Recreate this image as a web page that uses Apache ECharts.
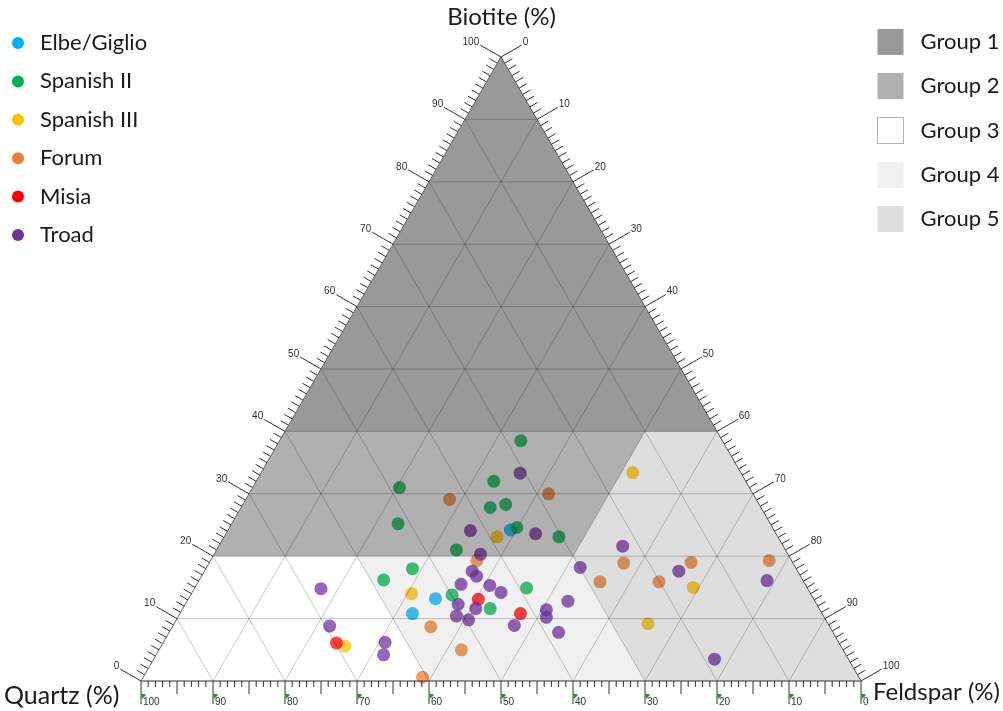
<!DOCTYPE html>
<html><head><meta charset="utf-8">
<script src="https://cdn.jsdelivr.net/npm/echarts@6/dist/echarts.min.js"></script>
<style>html,body{margin:0;padding:0;background:#fff}#c{width:1003px;height:711px}</style>
</head><body><div id="c"></div>
<script>
// ---- DATA: each sample is [Quartz %, Feldspar %, Biotite %] ----
const seriesNames = ['Elbe/Giglio','Spanish II','Spanish III','Forum','Misia','Troad'];
const seriesColors = ['#00b0f0','#00b050','#ffc000','#ed7d31','#ff0000','#7030a0'];

const elbeGiglio = [[36.6,39.2,24.2],[52.5,34.3,13.2],[56.9,32.3,10.8]];
const spanishII = [[28,33.5,38.5],[35,33,32],[48.6,20.4,31],[37.6,34.6,27.8],[35.2,36.5,28.3],
  [51.7,23.1,25.2],[35.5,39.9,24.6],[30.4,46.5,23.1],[45.7,33.3,21],[53.3,28.7,18],
  [58.2,25.6,16.2],[49.9,36.3,13.8],[39,46.1,14.9],[45.7,42.7,11.6]];
const spanishIII = [[15,51.6,33.4],[39,37.9,23.1],[55.4,30.6,14],[15.8,69.2,15],[25,65.8,9.2],[68.9,25.5,5.6]];
const forum = [[42.6,28.3,29.1],[28.4,41.6,30],[43.7,37,19.3],[55.4,35.9,8.7],[53,42,5],
  [60.6,38.8,0.6],[28.3,55.8,15.9],[23.5,57.6,18.9],[20.1,64,15.9],[14.1,66.9,19],[3.1,77.6,19.3]];
const misia = [[46.6,40.3,13.1],[41.9,47.3,10.8],[69.8,24.1,6.1]];
const troad = [[30.7,36,33.3],[42.2,33.7,24.1],[33.4,43,23.6],[42.7,37,20.3],[22.3,56.1,21.6],
  [29.9,51.9,18.2],[16.5,65.9,17.6],[5,78.9,16.1],[18.6,77.9,3.5],[67.6,17.6,14.8],
  [69.4,21.8,8.8],[63,30.8,6.2],[64.2,31.6,4.2],[45.2,37.2,17.6],[45,38.2,16.8],
  [47.8,36.7,15.5],[43.9,40.8,15.3],[42.9,42.9,14.2],[49.8,37.9,12.3],[47.7,40.7,11.6],
  [51,38.6,10.4],[49.6,40.6,9.8],[43.7,47.4,8.9],[34.3,52.9,12.8],[38,50.6,11.4],
  [38.6,51.2,10.2],[38.1,54.1,7.8]];
const seriesData = [elbeGiglio, spanishII, spanishIII, forum, misia, troad];

// Group regions, vertices as [Quartz, Feldspar, Biotite]
const groupNames = ['Group 1','Group 2','Group 3','Group 4','Group 5'];
const groupColors = ['rgba(0,0,0,0.40)','rgba(0,0,0,0.31)','rgba(255,255,255,0)','rgba(0,0,0,0.06)','rgba(0,0,0,0.13)'];
const group1 = [[60,0,40],[0,60,40],[0,0,100]];
const group2 = [[80,0,20],[30,50,20],[10,50,40],[60,0,40]];
const group3 = [[100,0,0],[60,40,0],[60,20,20],[80,0,20]];
const group4 = [[60,20,20],[30,50,20],[30,70,0],[60,40,0]];
const group5 = [[10,50,40],[0,60,40],[0,100,0],[30,70,0],[30,50,20]];
const groupPolys = [group1, group2, group3, group4, group5];

// Axis ticks (%)
const tickValues = [];
for (let v = 0; v <= 100; v++) tickValues.push(v);
const gridValues = [10,20,30,40,50,60,70,80,90];

// ---- ternary -> cartesian (x: 0..100, y: 0..86.6) ----
const H = Math.sqrt(3) / 2;
function toXY(f, b) { return [f + b / 2, b * H]; }
function qfb(p) { return toXY(p[1], p[2]); }

const FONT = 'Lato, "Open Sans", sans-serif';
const chart = echarts.init(document.getElementById('c'), null, {renderer: 'canvas'});

const series = [];
seriesNames.forEach((n, i) => {
  series.push({
    name: n, type: 'scatter', z: 2, symbolSize: 13,
    itemStyle: {color: seriesColors[i], opacity: 0.74},
    data: seriesData[i].map(qfb)
  });
});
groupNames.forEach((n, i) => {
  const poly = groupPolys[i];
  series.push({
    name: n, type: 'custom', z: 3, silent: true,
    itemStyle: {color: groupColors[i]},
    data: [[0, 0]],
    renderItem: function (params, api) {
      return {type: 'polygon', shape: {points: poly.map(p => api.coord(qfb(p)))},
        style: {fill: api.visual('color')}};
    }
  });
});
// grid lines
series.push({
  type: 'custom', z: 4, silent: true, data: gridValues.map(v => [v, 0]),
  renderItem: function (params, api) {
    const v = api.value(0);
    const st = {stroke: 'rgba(0,0,0,0.22)', lineWidth: 1};
    const L = (a, b) => {
      const p1 = api.coord(a), p2 = api.coord(b);
      return {type: 'line', shape: {x1: p1[0], y1: p1[1], x2: p2[0], y2: p2[1]}, style: st};
    };
    return {type: 'group', children: [
      L(toXY(0, v), toXY(100 - v, v)),
      L(toXY(v, 0), toXY(v, 100 - v)),
      L(toXY(100 - v, 0), toXY(0, 100 - v))
    ]};
  }
});
// triangle frame
series.push({
  type: 'custom', z: 5, silent: true, data: [[0, 0]],
  renderItem: function (params, api) {
    const a = api.coord(toXY(0, 0)), b = api.coord(toXY(100, 0)), t = api.coord(toXY(0, 100));
    return {type: 'group', children: [
      {type: 'line', shape: {x1: a[0], y1: a[1], x2: b[0], y2: b[1]}, style: {stroke: '#333', lineWidth: 1}},
      {type: 'line', shape: {x1: a[0], y1: a[1], x2: t[0], y2: t[1]}, style: {stroke: '#666', lineWidth: 1}},
      {type: 'line', shape: {x1: b[0], y1: b[1], x2: t[0], y2: t[1]}, style: {stroke: '#555', lineWidth: 1}}
    ]};
  }
});
// ticks + labels
series.push({
  type: 'custom', z: 5, silent: true, data: tickValues.map(v => [v, 0]),
  renderItem: function (params, api) {
    const v = api.value(0);
    const major = v % 10 === 0, half = v % 5 === 0;
    const kids = [];
    const c = 0.866, s = 0.5;
    const ln = (p, q, col) => ({type: 'line', shape: {x1: p[0], y1: p[1], x2: q[0], y2: q[1]},
      style: {stroke: col || '#333', lineWidth: 1}});
    const tx = (str, x, y, al, va) => ({type: 'text', style: {text: str, x: x, y: y,
      align: al, verticalAlign: va, textAlign: al, textVerticalAlign: va,
      font: '10px "Liberation Sans", Arial, sans-serif', fill: '#333'}});
    const ls = major ? 24 : 9;
    // left edge: Biotite
    const pl = api.coord(toXY(0, v));
    const el = [pl[0] - c * ls, pl[1] - s * ls];
    kids.push(ln(pl, el));
    // right edge: Feldspar
    const pr = api.coord(toXY(v, 100 - v));
    const er = [pr[0] + c * ls, pr[1] - s * ls];
    kids.push(ln(pr, er));
    // bottom: Quartz
    const pb = api.coord(toXY(100 - v, 0));
    const lb = major ? 23 : (half ? 13 : 6);
    kids.push(ln(pb, [pb[0], pb[1] + lb]));
    if (major) {
      kids.push(tx(String(v), el[0] - 1, el[1] + 2, 'right', 'bottom'));
      kids.push(tx(String(v), er[0] + 1, er[1] + 2, 'left', 'bottom'));
      kids.push(tx(String(v), pb[0] + 2, pb[1] + 21, 'left', 'middle'));
      kids.push({type: 'polygon', shape: {points: [[pb[0], pb[1] + 12.5], [pb[0] + 5.5, pb[1] + 13.5], [pb[0] + 1, pb[1] + 18]]},
        style: {fill: '#2f8f2f'}});
    }
    return {type: 'group', children: kids};
  }
});

const labelStyle = {fontSize: 22, fontFamily: FONT, color: '#1a1a1a'};
chart.setOption({
  animation: false,
  backgroundColor: '#fff',
  grid: {left: 141, top: 57, width: 720, height: 624, containLabel: false},
  xAxis: {type: 'value', min: 0, max: 100, show: false},
  yAxis: {type: 'value', min: 0, max: 100 * H, show: false},
  legend: [
    {orient: 'vertical', left: 7, top: 26, itemWidth: 12, itemHeight: 12, itemGap: 14.4,
      icon: 'circle', selectedMode: false,
      textStyle: Object.assign({lineHeight: 24, padding: [0, 0, 0, 11]}, labelStyle),
      data: seriesNames.map(n => ({name: n, itemStyle: {opacity: 1}}))},
    {orient: 'vertical', left: 872, top: 24, itemWidth: 26, itemHeight: 26, itemGap: 18,
      icon: 'rect', selectedMode: false,
      textStyle: Object.assign({lineHeight: 26, padding: [0, 0, 0, 12]}, labelStyle),
      data: groupNames.map((n, i) => i === 2
        ? {name: n, itemStyle: {color: '#fff', borderColor: '#666', borderWidth: 1, borderType: 'dotted'}}
        : {name: n})}
  ],
  graphic: [
    {type: 'text', left: 'center', top: 5, style: {text: 'Biotite (%)', font: '24px ' + FONT, fill: '#1a1a1a'}},
    {type: 'text', left: 4, top: 683, style: {text: 'Quartz (%)', font: '25px ' + FONT, fill: '#1a1a1a'}},
    {type: 'text', right: 3, top: 680, style: {text: 'Feldspar (%)', font: '24px ' + FONT, fill: '#1a1a1a'}}
  ],
  series: series
});
</script></body></html>
